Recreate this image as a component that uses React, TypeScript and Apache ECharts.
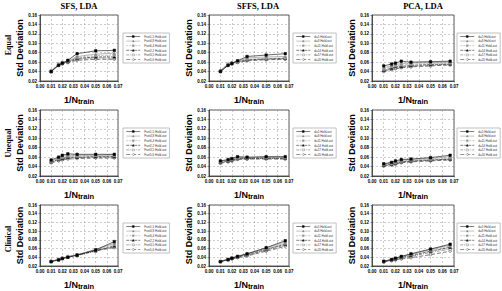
import React, { useEffect, useRef } from "react";
import * as echarts from "echarts";

const X = [0.01, 0.0167, 0.02, 0.025, 0.0333, 0.05, 0.0667];

const COL_TITLES = ["SFS, LDA", "SFFS, LDA", "PCA, LDA"];
const ROW_TITLES = ["Equal", "Unequal", "Clinical"];

const SFS_NAMES = ["Fset1,5 Hold-out", "Fset4,8 Hold-out", "Fset6,4 Hold-out", "Fset2,2 Hold-out", "Fset3,5 Hold-out", "Fset5,6 Hold-out"];
const D_NAMES = ["d=5 Hold-out", "d=8 Hold-out", "d=11 Hold-out", "d=14 Hold-out", "d=17 Hold-out", "d=20 Hold-out"];

const EQ_SFS = [
  [0.040, 0.053, 0.058, 0.064, 0.078, 0.084, 0.085],
  [0.040, 0.054, 0.057, 0.062, 0.072, 0.077, 0.079],
  [0.041, 0.055, 0.059, 0.063, 0.070, 0.074, 0.075],
  [0.040, 0.056, 0.058, 0.061, 0.068, 0.071, 0.071],
  [0.040, 0.055, 0.057, 0.060, 0.066, 0.069, 0.068],
  [0.041, 0.054, 0.056, 0.059, 0.064, 0.066, 0.066],
];
const EQ_SFFS = [
  [0.040, 0.053, 0.057, 0.063, 0.072, 0.075, 0.078],
  [0.040, 0.054, 0.058, 0.062, 0.069, 0.071, 0.072],
  [0.041, 0.055, 0.058, 0.061, 0.066, 0.068, 0.069],
  [0.042, 0.056, 0.059, 0.061, 0.065, 0.067, 0.068],
  [0.041, 0.055, 0.057, 0.060, 0.064, 0.066, 0.067],
  [0.040, 0.054, 0.056, 0.059, 0.063, 0.065, 0.066],
];
const EQ_PCA = [
  [0.052, 0.056, 0.058, 0.062, 0.060, 0.061, 0.062],
  [0.048, 0.052, 0.055, 0.057, 0.058, 0.059, 0.060],
  [0.045, 0.050, 0.052, 0.054, 0.055, 0.057, 0.058],
  [0.043, 0.047, 0.050, 0.051, 0.053, 0.055, 0.056],
  [0.041, 0.045, 0.047, 0.049, 0.051, 0.053, 0.055],
  [0.040, 0.044, 0.046, 0.048, 0.050, 0.052, 0.054],
];
const UN_SFS = [
  [0.054, 0.060, 0.064, 0.067, 0.066, 0.066, 0.066],
  [0.052, 0.058, 0.062, 0.064, 0.064, 0.064, 0.065],
  [0.051, 0.056, 0.059, 0.062, 0.062, 0.063, 0.063],
  [0.050, 0.055, 0.057, 0.060, 0.060, 0.061, 0.061],
  [0.049, 0.054, 0.056, 0.058, 0.059, 0.060, 0.060],
  [0.048, 0.052, 0.054, 0.056, 0.057, 0.058, 0.058],
];
const UN_SFFS = [
  [0.052, 0.055, 0.057, 0.061, 0.060, 0.061, 0.061],
  [0.051, 0.054, 0.056, 0.059, 0.059, 0.060, 0.060],
  [0.050, 0.053, 0.055, 0.058, 0.058, 0.059, 0.059],
  [0.049, 0.052, 0.054, 0.057, 0.057, 0.058, 0.058],
  [0.048, 0.051, 0.053, 0.056, 0.057, 0.057, 0.057],
  [0.047, 0.050, 0.052, 0.055, 0.056, 0.056, 0.056],
];
const UN_PCA = [
  [0.046, 0.049, 0.052, 0.055, 0.056, 0.059, 0.064],
  [0.045, 0.048, 0.050, 0.053, 0.055, 0.057, 0.061],
  [0.044, 0.046, 0.048, 0.051, 0.053, 0.055, 0.058],
  [0.043, 0.045, 0.047, 0.050, 0.052, 0.054, 0.056],
  [0.042, 0.044, 0.046, 0.049, 0.051, 0.053, 0.055],
  [0.041, 0.043, 0.045, 0.048, 0.050, 0.052, 0.054],
];
const CL_SFS = [
  [0.030, 0.034, 0.037, 0.040, 0.045, 0.057, 0.076],
  [0.031, 0.035, 0.038, 0.041, 0.046, 0.058, 0.072],
  [0.030, 0.035, 0.038, 0.042, 0.046, 0.057, 0.069],
  [0.031, 0.035, 0.038, 0.041, 0.045, 0.055, 0.066],
  [0.030, 0.034, 0.037, 0.040, 0.044, 0.054, 0.064],
  [0.031, 0.035, 0.038, 0.041, 0.045, 0.056, 0.062],
];
const CL_SFFS = [
  [0.030, 0.035, 0.038, 0.042, 0.048, 0.062, 0.078],
  [0.031, 0.036, 0.039, 0.043, 0.048, 0.061, 0.075],
  [0.030, 0.035, 0.038, 0.042, 0.047, 0.059, 0.072],
  [0.031, 0.035, 0.038, 0.041, 0.046, 0.058, 0.070],
  [0.030, 0.034, 0.037, 0.040, 0.045, 0.056, 0.068],
  [0.030, 0.034, 0.036, 0.039, 0.043, 0.054, 0.065],
];
const CL_PCA = [
  [0.031, 0.035, 0.038, 0.042, 0.048, 0.059, 0.070],
  [0.031, 0.035, 0.038, 0.042, 0.047, 0.058, 0.068],
  [0.030, 0.034, 0.037, 0.041, 0.046, 0.056, 0.066],
  [0.030, 0.034, 0.036, 0.040, 0.044, 0.054, 0.063],
  [0.030, 0.033, 0.035, 0.038, 0.042, 0.051, 0.059],
  [0.029, 0.032, 0.034, 0.036, 0.039, 0.046, 0.054],
];

const PANELS = [
  [EQ_SFS, EQ_SFFS, EQ_PCA],
  [UN_SFS, UN_SFFS, UN_PCA],
  [CL_SFS, CL_SFFS, CL_PCA],
];

const STYLES = [
  { color: "#000", fill: "#000", type: "solid" as any, symbol: "rect", size: 2.5 },
  { color: "#888", fill: "#888", type: "solid" as any, symbol: "triangle", size: 2 },
  { color: "#999", fill: "#999", type: "dashed" as any, symbol: "rect", size: 2.5 },
  { color: "#000", fill: "#000", type: [3, 1] as any, symbol: "triangle", size: 2.5 },
  { color: "#555", fill: "#fff", type: [3, 1, 1, 1] as any, symbol: "rect", size: 2.5 },
  { color: "#222", fill: "#fff", type: [4, 2] as any, symbol: "circle", size: 2.5 },
];

const LEFTS = [40, 209, 372];
const WIDTHS = [78, 80, 82];
const TOPS = [15, 110, 205];
const HEIGHT = 66;
const TITLE_X = [79, 258, 423];
const ROW_Y = [45, 143, 239];
const LEG_X = [123, 293, 457];

export default function App() {
  const ref = useRef<HTMLDivElement>(null);
  useEffect(() => {
    const chart = echarts.init(ref.current!, null, { renderer: "svg" });
    const grids: any[] = [];
    const xAxes: any[] = [];
    const yAxes: any[] = [];
    const series: any[] = [];
    const legends: any[] = [];
    const graphics: any[] = [];
    for (let r = 0; r < 3; r++) {
      for (let c = 0; c < 3; c++) {
        const i = r * 3 + c;
        const names = c === 0 ? SFS_NAMES : D_NAMES;
        grids.push({
          left: LEFTS[c], top: TOPS[r], width: WIDTHS[c], height: HEIGHT,
          show: true, borderColor: "#333", borderWidth: 0.8, backgroundColor: "#fff",
        });
        xAxes.push({
          type: "value", gridIndex: i, min: 0, max: 0.07, interval: 0.01,
          name: "{a|1/N}{b|train}", nameLocation: "middle", nameGap: 14,
          nameTextStyle: {
            rich: {
              a: { fontFamily: "Liberation Sans", fontWeight: "bold", fontSize: 9, color: "#000" },
              b: { fontFamily: "Liberation Sans", fontWeight: "bold", fontSize: 7.5, color: "#000", padding: [2, 0, 0, 0] },
            },
          },
          axisLine: { show: true, lineStyle: { color: "#333", width: 0.8 } },
          axisTick: { show: true, length: 1.5, lineStyle: { color: "#333", width: 0.5 } },
          axisLabel: { fontSize: 4.5, fontWeight: "bold", color: "#000", margin: 3, fontFamily: "Liberation Sans",
            formatter: (v: number) => v.toFixed(2) },
          splitLine: { show: true, lineStyle: { color: "#999", type: [2, 2], width: 0.5 } },
        });
        yAxes.push({
          type: "value", gridIndex: i, min: 0.02, max: 0.16, interval: 0.02,
          name: "Std Deviation", nameLocation: "middle", nameGap: 10,
          nameTextStyle: { fontFamily: "Liberation Sans", fontWeight: "bold", fontSize: 9, color: "#000" },
          axisLine: { show: true, lineStyle: { color: "#333", width: 0.8 } },
          axisTick: { show: true, length: 1.5, lineStyle: { color: "#333", width: 0.5 } },
          axisLabel: { fontSize: 4.5, fontWeight: "bold", color: "#000", margin: 3, fontFamily: "Liberation Sans",
            formatter: (v: number) => v.toFixed(2) },
          splitLine: { show: true, lineStyle: { color: "#999", type: [2, 2], width: 0.5 } },
        });
        const data = PANELS[r][c];
        data.forEach((vals, k) => {
          const st = STYLES[k];
          series.push({
            type: "line", name: names[k], xAxisIndex: i, yAxisIndex: i,
            data: X.map((x, j) => [x, vals[j]]),
            symbol: st.symbol, symbolSize: st.size, showSymbol: true,
            itemStyle: { color: st.fill, borderColor: st.color, borderWidth: 0.5 },
            lineStyle: { color: st.color, type: st.type, width: 0.6 },
            z: 10 - k,
          });
        });
        legends.push({
          data: names, left: LEG_X[c], top: TOPS[r] + 18, orient: "vertical",
          itemWidth: 14, itemHeight: 2.5, itemGap: 1.6, padding: [2, 3, 2, 3],
          borderColor: "#999", borderWidth: 0.6, backgroundColor: "#fff",
          itemStyle: { borderWidth: 0.3 },
          lineStyle: { width: 0.5 },
          textStyle: { fontSize: 3, color: "#333", fontFamily: "Liberation Sans", padding: [0, 0, 0, -1] },
          selectedMode: false,
        });
      }
    }
    for (let c = 0; c < 3; c++) {
      graphics.push({
        type: "text", x: TITLE_X[c], y: 6,
        style: { text: COL_TITLES[c], font: "bold 8.5px 'Liberation Serif'", fill: "#000", align: "center", verticalAlign: "middle" },
      });
    }
    for (let r = 0; r < 3; r++) {
      graphics.push({
        type: "text", x: 8, y: ROW_Y[r], rotation: Math.PI / 2,
        style: { text: ROW_TITLES[r], font: "bold 8px 'Liberation Serif'", fill: "#000", align: "center", verticalAlign: "middle" },
      });
    }
    chart.setOption({
      animation: false,
      backgroundColor: "#fff",
      grid: grids, xAxis: xAxes, yAxis: yAxes, series, legend: legends, graphic: graphics,
    });
    return () => chart.dispose();
  }, []);
  return <div ref={ref} style={{ position: "absolute", left: 0, top: 0, width: 502, height: 291 }} />;
}
